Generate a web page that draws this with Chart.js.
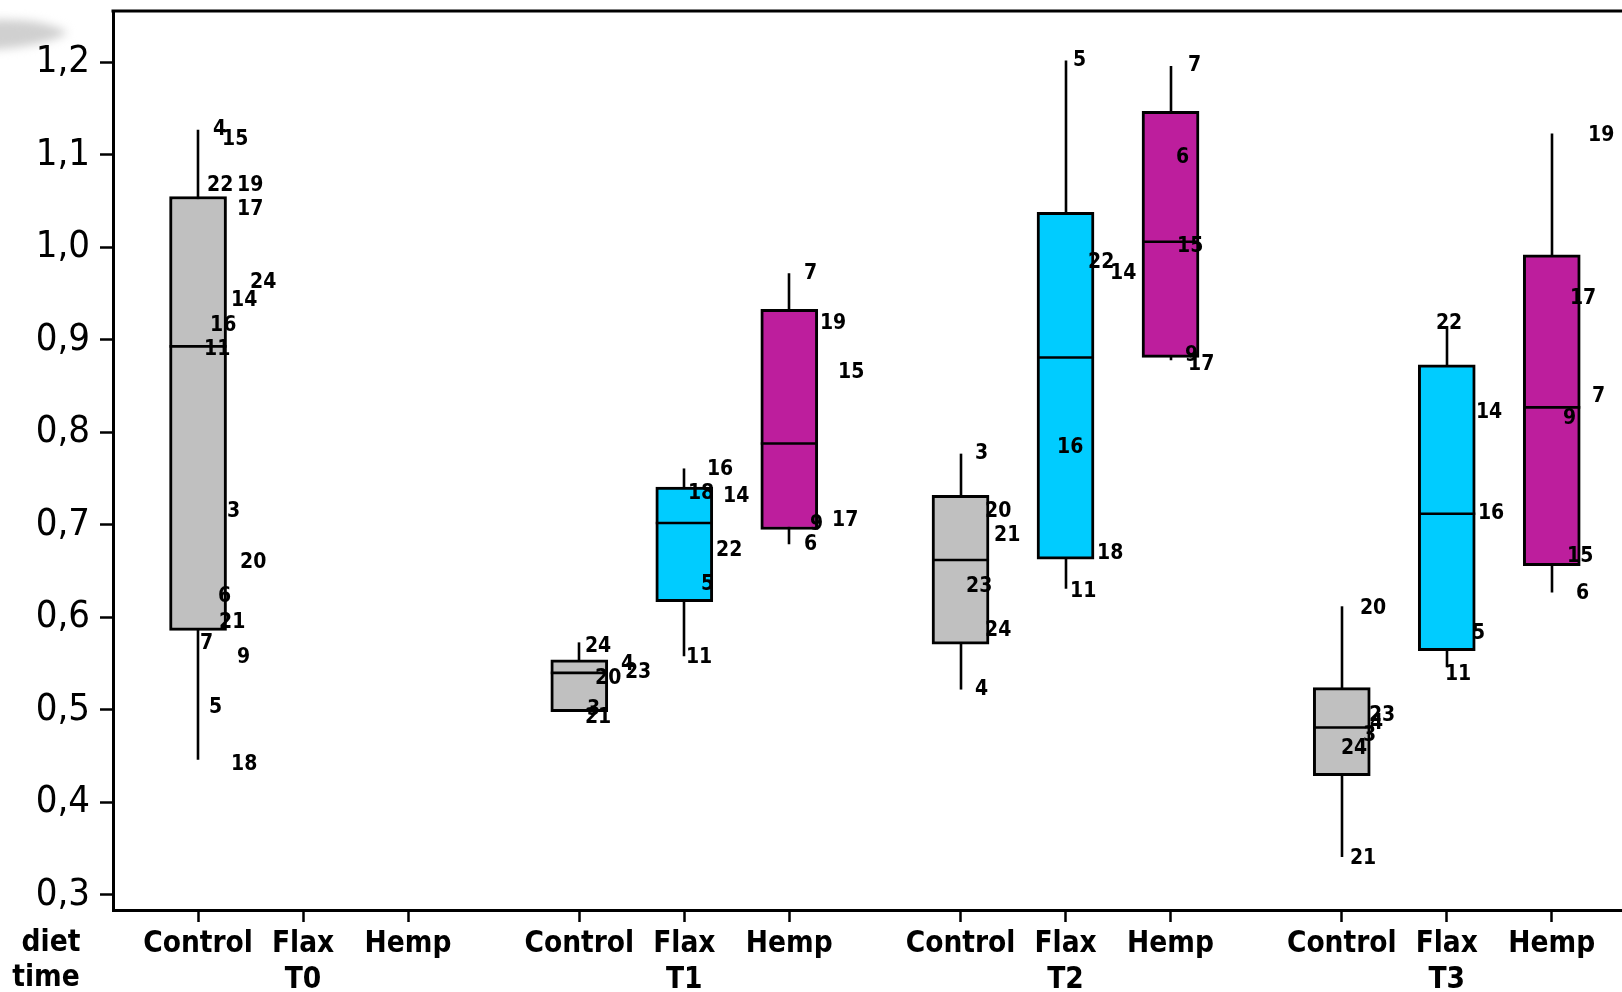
<!DOCTYPE html>
<html>
<head>
<meta charset="utf-8">
<title>Boxplots by diet and time</title>
<script src="https://cdn.jsdelivr.net/npm/chart.js@4.4.1/dist/chart.umd.min.js"></script>
<style>
    html, body { margin: 0; padding: 0; background: #fff; overflow: hidden; }
    #wrap { width: 1622px; height: 992px; position: relative; }
</style>
</head>
<body>
<div id="wrap"><canvas id="chart"></canvas></div>
<script>
    "use strict";

    const times = ["T0", "T1", "T2", "T3"];
    const diets = ["Control", "Flax", "Hemp"];
    const yTicks = [0.3, 0.4, 0.5, 0.6, 0.7, 0.8, 0.9, 1.0, 1.1, 1.2];

    // box order: T0 Control, T0 Flax, T0 Hemp, T1 Control, ...
    const whiskerLow  = [0.446, null, null, 0.498, 0.558, 0.679, 0.522, 0.631, 0.878, 0.341, 0.546, 0.627];
    const q1          = [0.586, null, null, 0.498, 0.617, 0.695, 0.571, 0.663, 0.881, 0.429, 0.564, 0.656];
    const median      = [0.893, null, null, 0.540, 0.702, 0.788, 0.662, 0.881, 1.006, 0.481, 0.712, 0.827];
    const q3          = [1.055, null, null, 0.554, 0.741, 0.933, 0.732, 1.038, 1.147, 0.524, 0.873, 0.992];
    const whiskerHigh = [1.127, null, null, 0.573, 0.761, 0.972, 0.777, 1.202, 1.196, 0.612, 0.915, 1.123];

    // individual subjects (labelled points), per box
    const subjectIds = [
        [4, 15, 22, 19, 17, 24, 14, 16, 11, 3, 20, 6, 21, 7, 9, 5, 18],
        [],
        [],
        [24, 4, 23, 20, 3, 21],
        [16, 18, 14, 22, 5, 11],
        [7, 19, 15, 9, 17, 6],
        [3, 20, 21, 23, 24, 4],
        [5, 22, 14, 16, 18, 11],
        [7, 6, 15, 9, 17],
        [20, 23, 4, 3, 24, 21],
        [22, 14, 16, 5, 11],
        [19, 17, 7, 9, 15, 6]
    ];
    const subjectValues = [
        [1.127, 1.117, 1.067, 1.067, 1.041, 0.962, 0.942, 0.915, 0.889, 0.714, 0.659, 0.622, 0.594, 0.572, 0.557, 0.503, 0.441],
        [],
        [],
        [0.569, 0.549, 0.540, 0.534, 0.500, 0.492],
        [0.760, 0.734, 0.731, 0.672, 0.636, 0.557],
        [0.972, 0.918, 0.865, 0.700, 0.705, 0.679],
        [0.777, 0.714, 0.688, 0.633, 0.586, 0.522],
        [1.202, 0.984, 0.972, 0.784, 0.669, 0.628],
        [1.196, 1.097, 1.001, 0.883, 0.873],
        [0.610, 0.494, 0.485, 0.472, 0.458, 0.339],
        [0.918, 0.821, 0.712, 0.583, 0.538],
        [1.121, 0.945, 0.839, 0.815, 0.666, 0.626]
    ];
    // horizontal jitter of each point, in category units
    const subjectJitter = [
        [0.143, 0.229, 0.086, 0.371, 0.371, 0.495, 0.314, 0.114, 0.057, 0.276, 0.400, 0.190, 0.200, 0.019, 0.371, 0.105, 0.314],
        [],
        [],
        [0.054, 0.397, 0.435, 0.150, 0.073, 0.054],
        [0.216, 0.035, 0.369, 0.302, 0.159, 0.016],
        [0.140, 0.292, 0.464, 0.197, 0.407, 0.140],
        [0.138, 0.233, 0.319, 0.052, 0.233, 0.138],
        [0.071, 0.214, 0.424, -0.081, 0.300, 0.043],
        [0.167, 0.052, 0.062, 0.138, 0.167],
        [0.173, 0.259, 0.269, 0.202, -0.008, 0.078],
        [-0.103, 0.278, 0.297, 0.240, -0.017],
        [0.345, 0.173, 0.383, 0.107, 0.145, 0.230]
    ];

    const dietColors = ["#c0c0c0", "#00ccff", "#bd1e9d"];
    const groupStep = 3.631;
    const family = '"DejaVu Sans Condensed", "DejaVu Sans", sans-serif';

    function boxPosition(i) {
        return Math.floor(i / 3) * groupStep + (i % 3);
    }

    const positions = [];
    for (let i = 0; i < times.length * diets.length; i++) positions.push(boxPosition(i));

    const boxData = [];
    const boxFill = [];
    q1.forEach((v, i) => {
        if (v === null) return;
        boxData.push({ x: boxPosition(i), y: [q1[i], q3[i]], box: i });
        boxFill.push(dietColors[i % 3]);
    });

    const pointData = [];
    subjectIds.forEach((ids, i) => {
        ids.forEach((id, k) => {
            pointData.push({ x: boxPosition(i) + subjectJitter[i][k], y: subjectValues[i][k], id: id });
        });
    });

    const boxLinesPlugin = {
        id: "boxLines",
        beforeDraw(chart) {
            // faint grey smudge in the top-left corner of the scan
            const { ctx } = chart;
            ctx.save();
            ctx.filter = "blur(5px)";
            ctx.fillStyle = "rgba(200, 200, 200, 0.85)";
            ctx.beginPath();
            ctx.moveTo(-10, 20);
            ctx.quadraticCurveTo(45, 18, 68, 33);
            ctx.quadraticCurveTo(45, 46, -10, 50);
            ctx.closePath();
            ctx.fill();
            ctx.restore();
        },
        beforeDatasetsDraw(chart) {
            const { ctx, scales: { x, y } } = chart;
            ctx.save();
            ctx.strokeStyle = "#000";
            ctx.lineWidth = 2.6;
            whiskerLow.forEach((lo, i) => {
                if (lo === null) return;
                const px = Math.round(x.getPixelForValue(boxPosition(i)));
                ctx.beginPath();
                ctx.moveTo(px, y.getPixelForValue(lo));
                ctx.lineTo(px, y.getPixelForValue(whiskerHigh[i]));
                ctx.stroke();
            });
            ctx.restore();
        },
        afterDatasetsDraw(chart) {
            const { ctx, scales: { y }, chartArea } = chart;
            const barMeta = chart.getDatasetMeta(0);
            ctx.save();
            ctx.strokeStyle = "#000";
            ctx.lineWidth = 2.6;
            barMeta.data.forEach((bar, k) => {
                const i = boxData[k].box;
                const py = y.getPixelForValue(median[i]);
                ctx.beginPath();
                ctx.moveTo(bar.x - bar.width / 2, py);
                ctx.lineTo(bar.x + bar.width / 2, py);
                ctx.stroke();
            });

            ctx.fillStyle = "#000";
            ctx.font = "bold 21px " + family;
            ctx.textAlign = "left";
            ctx.textBaseline = "middle";
            chart.getDatasetMeta(1).data.forEach((pt, k) => {
                ctx.fillText(String(pointData[k].id), pt.x, pt.y);
            });

            // top frame line
            ctx.lineWidth = 3;
            ctx.beginPath();
            ctx.moveTo(chartArea.left - 1.5, chartArea.top);
            ctx.lineTo(chartArea.right, chartArea.top);
            ctx.stroke();

            // row captions left of the axis
            ctx.font = "bold 29.5px " + family;
            ctx.textAlign = "center";
            ctx.fillText("diet", chartArea.left - 62, 943);
            ctx.fillText("time", chartArea.left - 67, 978);
            ctx.restore();
        }
    };

    new Chart(document.getElementById("chart"), {
        data: {
            datasets: [
                {
                    type: "bar",
                    data: boxData,
                    backgroundColor: boxFill,
                    borderColor: "#000",
                    borderWidth: 3,
                    borderSkipped: false,
                    barThickness: 57
                },
                {
                    type: "scatter",
                    data: pointData,
                    pointRadius: 0,
                    pointHoverRadius: 0
                }
            ]
        },
        plugins: [boxLinesPlugin],
        options: {
            responsive: true,
            maintainAspectRatio: false,
            animation: false,
            layout: { padding: { top: 11, right: 0, left: 0, bottom: 0 } },
            plugins: {
                legend: { display: false },
                tooltip: { enabled: false }
            },
            scales: {
                x: {
                    type: "linear",
                    offset: false,
                    min: -0.81,
                    max: 13.562,
                    afterBuildTicks(scale) {
                        scale.ticks = positions.map((v) => ({ value: v }));
                    },
                    afterFit(scale) {
                        scale.height = 82;
                        scale.paddingLeft = 0;
                        scale.paddingRight = 0;
                    },
                    border: { display: true, color: "#000", width: 3 },
                    grid: {
                        offset: false,
                        drawOnChartArea: false,
                        drawTicks: true,
                        tickLength: 12,
                        tickWidth: 2.5,
                        tickColor: "#000"
                    },
                    ticks: {
                        autoSkip: false,
                        maxRotation: 0,
                        minRotation: 0,
                        color: "#000",
                        padding: 5,
                        font: { family: family, size: 29.5, weight: "bold", lineHeight: 1.2 },
                        callback: (value, index) => {
                            const d = diets[index % 3];
                            return index % 3 === 1 ? [d, times[Math.floor(index / 3)]] : [d, ""];
                        }
                    }
                },
                y: {
                    type: "linear",
                    min: 0.2837,
                    max: 1.2555,
                    afterBuildTicks(scale) {
                        scale.ticks = yTicks.map((v) => ({ value: v }));
                    },
                    afterFit(scale) {
                        scale.width = 113;
                        scale.paddingTop = 0;
                        scale.paddingBottom = 0;
                    },
                    border: { display: true, color: "#000", width: 3 },
                    grid: {
                        drawOnChartArea: false,
                        drawTicks: true,
                        tickLength: 13,
                        tickWidth: 2.5,
                        tickColor: "#000"
                    },
                    ticks: {
                        color: "#000",
                        padding: 10,
                        font: { family: family, size: 38 },
                        callback: (value) => value.toFixed(1).replace(".", ",")
                    }
                }
            }
        }
    });
</script>
</body>
</html>
